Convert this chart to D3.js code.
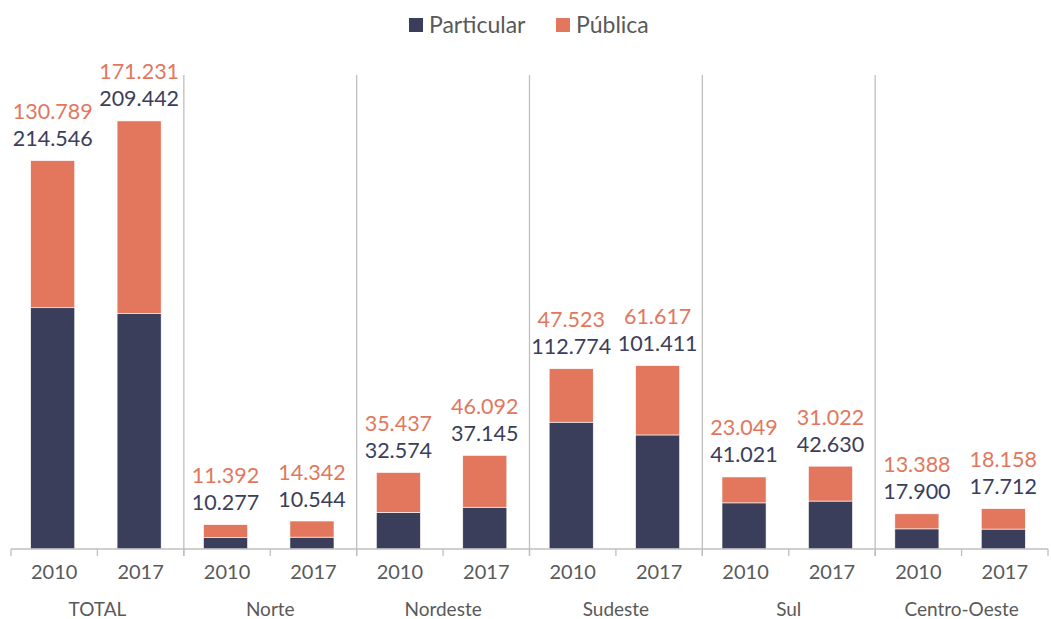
<!DOCTYPE html>
<html>
<head>
<meta charset="utf-8">
<script src="https://cdn.jsdelivr.net/npm/d3@7"></script>
<style>
  body { margin: 0; background: #fff; }
  text { font-family: Lato, "Noto Sans", sans-serif; font-weight: 400; }
</style>
</head>
<body>
<svg id="chart" width="1051" height="619"></svg>
<script>
// data
const regions = ['TOTAL', 'Norte', 'Nordeste', 'Sudeste', 'Sul', 'Centro-Oeste'];
const years = ['2010', '2017'];
const particular = [214546, 209442, 10277, 10544, 32574, 37145, 112774, 101411, 41021, 42630, 17900, 17712];
const publica = [130789, 171231, 11392, 14342, 35437, 46092, 47523, 61617, 23049, 31022, 13388, 18158];
const seriesNames = ['Particular', 'Pública'];

const colors = { Particular: '#3b3e5b', 'Pública': '#e2775e' };
const gray = '#595959';
const lineColor = '#bfbfbf';

const rows = [];
regions.forEach((r, i) => {
  years.forEach((y, j) => {
    const k = i * years.length + j;
    rows.push({ key: r + '|' + y, region: r, year: y, Particular: particular[k], 'Pública': publica[k] });
  });
});

const fmt = d3.formatLocale({ decimal: ',', thousands: '.', grouping: [3], currency: ['R$', ''] }).format(',d');

const svg = d3.select('#chart');
const plotLeft = 11, plotRight = 1048, plotBase = 549, plotTop = 75;

const x = d3.scaleBand()
  .domain(rows.map(d => d.key))
  .range([plotLeft, plotRight]);
const xGroup = d3.scaleBand()
  .domain(regions)
  .range([plotLeft, plotRight]);
const y = d3.scaleLinear()
  .domain([0, 421500])
  .range([plotBase, plotTop]);

const barW = x.bandwidth() * 0.51;

const stacked = d3.stack().keys(seriesNames)(rows);

// group separators
svg.append('g')
  .selectAll('line')
  .data(regions.slice(1))
  .join('line')
    .attr('x1', d => xGroup(d))
    .attr('x2', d => xGroup(d))
    .attr('y1', plotTop)
    .attr('y2', plotBase + 7)
    .attr('stroke', lineColor)
    .attr('stroke-width', 1.3);

// bars
svg.append('g')
  .selectAll('g')
  .data(stacked)
  .join('g')
    .attr('fill', s => colors[s.key])
  .selectAll('rect')
  .data(s => s)
  .join('rect')
    .attr('x', d => x(d.data.key) + (x.bandwidth() - barW) / 2 - 1.5)
    .attr('width', barW)
    .attr('y', d => y(d[1]))
    .attr('height', d => y(d[0]) - y(d[1]))
    .attr('stroke', '#ffffff')
    .attr('stroke-width', 0.6);

// x axis line and ticks
const axis = svg.append('g');
axis.append('line')
  .attr('x1', plotLeft).attr('x2', plotRight)
  .attr('y1', plotBase).attr('y2', plotBase)
  .attr('stroke', lineColor).attr('stroke-width', 1.3);
axis.selectAll('.tick')
  .data(rows.map(d => x(d.key)).concat([plotRight]))
  .join('line')
    .attr('class', 'tick')
    .attr('x1', d => d).attr('x2', d => d)
    .attr('y1', plotBase).attr('y2', plotBase + 7)
    .attr('stroke', lineColor).attr('stroke-width', 1.3);

// year labels
axis.selectAll('.year')
  .data(rows)
  .join('text')
    .attr('class', 'year')
    .attr('x', d => x(d.key) + x.bandwidth() / 2)
    .attr('y', 579)
    .attr('text-anchor', 'middle')
    .attr('fill', gray)
    .attr('font-size', 20)
    .text(d => d.year);

// region labels
axis.selectAll('.region')
  .data(regions)
  .join('text')
    .attr('class', 'region')
    .attr('x', d => xGroup(d) + xGroup.bandwidth() / 2)
    .attr('y', 616)
    .attr('text-anchor', 'middle')
    .attr('fill', gray)
    .attr('font-size', 19)
    .text(d => d);

// value labels
const labels = svg.append('g').attr('font-size', 21.5).attr('text-anchor', 'middle');
labels.selectAll('.lp')
  .data(rows)
  .join('text')
    .attr('class', 'lp')
    .attr('x', d => x(d.key) + x.bandwidth() / 2 - 1.5)
    .attr('y', d => y(d.Particular + d['Pública']) - 22)
    .attr('dy', '0.35em')
    .attr('fill', colors.Particular)
    .text(d => fmt(d.Particular));
labels.selectAll('.lq')
  .data(rows)
  .join('text')
    .attr('class', 'lq')
    .attr('x', d => x(d.key) + x.bandwidth() / 2 - 1.5)
    .attr('y', d => y(d.Particular + d['Pública']) - 49)
    .attr('dy', '0.35em')
    .attr('fill', colors['Pública'])
    .text(d => fmt(d['Pública']));

// legend
const legend = svg.append('g').attr('transform', 'translate(409, 18)');
const legendX = [0, 147];
seriesNames.forEach((name, i) => {
  const g = legend.append('g').attr('transform', `translate(${legendX[i]}, 0)`);
  g.append('rect').attr('width', 14).attr('height', 14).attr('fill', colors[name]);
  g.append('text')
    .attr('x', 20).attr('y', 7).attr('dy', '0.35em')
    .attr('font-size', 23)
    .attr('fill', gray)
    .text(name);
});
</script>
</body>
</html>
